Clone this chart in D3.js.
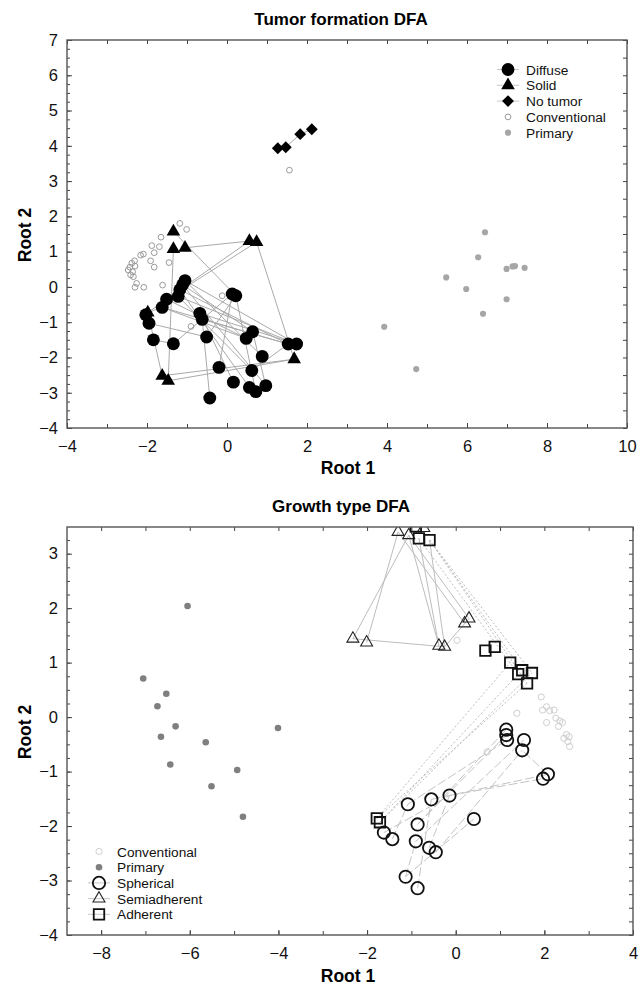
<!DOCTYPE html>
<html lang="en">
<head>
<meta charset="UTF-8">
<title>DFA</title>
<script src="https://cdn.jsdelivr.net/npm/d3@7"></script>
<style>
  body { margin: 0; background: #fff; }
  svg { font-family: "Liberation Sans", Arial, sans-serif; }
</style>
</head>
<body>
<div id="graphic"></div>
<script>
// ---- Tumor formation DFA (Root 1, Root 2) ----
var tumorDiffuse = [[-1.05,0.18],[-1.11,0.06],[-1.18,-0.08],[-1.22,-0.27],[-1.51,-0.35],[-1.62,-0.58],
  [-2.03,-0.79],[-1.95,-1.03],[-1.84,-1.5],[-1.34,-1.61],[-0.68,-0.75],[-0.62,-0.92],[-0.51,-1.42],
  [0.13,-0.2],[0.22,-0.25],[0.64,-1.27],[0.48,-1.46],[0.88,-1.97],[1.53,-1.62],[1.74,-1.62],
  [-0.2,-2.28],[0.62,-2.37],[0.16,-2.7],[0.56,-2.85],[0.72,-2.97],[0.97,-2.8],[-0.43,-3.15]];
var tumorSolid = [[-1.34,1.57],[-1.34,1.07],[-1.05,1.11],[0.56,1.30],[0.74,1.27],[-1.98,-0.73],
  [-1.62,-2.52],[-1.47,-2.66],[1.68,-2.05]];
var tumorNone = [[1.27,3.93],[1.47,3.96],[1.83,4.33],[2.12,4.47]];
var tumorConventional = [[-1.18,1.8],[-1.01,1.63],[-1.65,1.41],[-1.88,1.17],[-1.69,1.14],[-2.09,0.93],
  [-2.16,0.9],[-1.82,0.97],[-1.91,0.74],[-2.31,0.74],[-2.38,0.67],[-2.43,0.56],[-2.47,0.48],
  [-2.36,0.43],[-2.3,0.59],[-1.82,0.56],[-1.45,0.69],[-2.41,0.34],[-2.34,0.29],[-2.26,0.1],
  [-2.3,-0.01],[-2.08,-0.01],[-1.61,0.05],[-0.12,-0.25],[-0.9,-1.12],[1.56,3.31]];
var tumorPrimary = [[6.45,1.55],[6.28,0.84],[5.48,0.27],[5.98,-0.06],[6.99,0.51],[7.14,0.58],
  [7.2,0.59],[7.44,0.54],[6.99,-0.35],[6.4,-0.76],[3.93,-1.13],[4.73,-2.33]];
// connections: [group, index, group, index]
var tumorLinks = [
  ["solid",2,"solid",3],["solid",3,"solid",4],["solid",4,"solid",8],["solid",1,"solid",7],
  ["solid",5,"solid",6],["solid",6,"solid",8],["solid",7,"solid",8],["solid",3,"diffuse",4],
  ["solid",4,"diffuse",4],["solid",0,"diffuse",14],["solid",5,"diffuse",2],
  ["diffuse",2,"diffuse",18],["diffuse",3,"diffuse",19],["diffuse",1,"diffuse",15],
  ["diffuse",0,"diffuse",17],["diffuse",3,"diffuse",21],["diffuse",10,"diffuse",19],
  ["diffuse",11,"diffuse",18],["diffuse",2,"diffuse",23],["diffuse",9,"diffuse",13],
  ["diffuse",12,"diffuse",14],["diffuse",20,"diffuse",13],["diffuse",26,"diffuse",11],
  ["diffuse",22,"diffuse",10],["diffuse",24,"diffuse",14],["diffuse",25,"diffuse",15],
  ["diffuse",16,"diffuse",5],["diffuse",8,"diffuse",9],["diffuse",7,"diffuse",12],
  ["diffuse",6,"diffuse",3],["diffuse",21,"diffuse",18],["diffuse",4,"diffuse",16],
  ["diffuse",0,"diffuse",19],["diffuse",1,"diffuse",25],["diffuse",5,"diffuse",18],
  ["none",0,"none",1],["none",1,"none",2],["none",2,"none",3]];
var tumorLegend = ["Diffuse","Solid","No tumor","Conventional","Primary"];
var tumorXTicks = [-4,-2,0,2,4,6,8,10];
var tumorYTicks = [-4,-3,-2,-1,0,1,2,3,4,5,6,7];

// ---- Growth type DFA (Root 1, Root 2) ----
var growthSpherical = [[1.14,-0.23],[1.14,-0.33],[1.16,-0.42],[1.54,-0.42],[1.5,-0.61],[2.08,-1.05],
  [1.97,-1.13],[-0.14,-1.44],[-0.55,-1.51],[-1.08,-1.6],[0.41,-1.87],[-0.86,-1.97],[-1.62,-2.12],
  [-1.43,-2.24],[-0.9,-2.28],[-0.6,-2.4],[-0.45,-2.48],[-1.13,-2.93],[-0.86,-3.14]];
var growthSemi = [[-1.3,3.4],[-1.06,3.34],[-0.72,3.47],[-2.32,1.44],[-2.01,1.37],[-0.38,1.31],
  [-0.25,1.29],[0.3,1.81],[0.2,1.72]];
var growthAdherent = [[-0.9,3.5],[-0.83,3.28],[-0.59,3.25],[0.67,1.22],[0.88,1.29],[1.23,1.0],
  [1.41,0.79],[1.5,0.86],[1.72,0.81],[1.61,0.62],[-1.78,-1.86],[-1.71,-1.93]];
var growthConventional = [[1.93,0.37],[1.96,0.13],[2.05,0.19],[2.12,0.12],[2.22,0.13],[2.05,-0.1],
  [2.26,-0.02],[2.35,-0.07],[2.32,-0.17],[2.41,-0.1],[2.5,-0.32],[2.44,-0.39],[2.56,-0.36],
  [2.53,-0.45],[2.57,-0.54],[0.03,1.41],[1.38,0.07],[0.71,-0.64]];
var growthPrimary = [[-6.05,2.04],[-7.05,0.71],[-6.53,0.43],[-6.73,0.2],[-6.32,-0.17],[-6.65,-0.36],
  [-5.64,-0.46],[-4.01,-0.2],[-6.44,-0.87],[-4.93,-0.97],[-5.51,-1.27],[-4.8,-1.83]];
var growthLinks = [
  ["semi",1,"semi",3],["semi",0,"semi",4],["semi",1,"semi",5],["semi",1,"semi",7],
  ["semi",3,"semi",6],["semi",6,"semi",7],["semi",0,"semi",8],["adherent",2,"semi",6],
  ["adherent",1,"semi",5],
  ["adherent",2,"adherent",8],["adherent",2,"adherent",9],["adherent",1,"adherent",6],
  ["adherent",2,"adherent",7],["adherent",10,"adherent",5],["adherent",11,"adherent",6],
  ["adherent",10,"adherent",9],["adherent",11,"adherent",8],
  ["spherical",9,"spherical",2],["spherical",8,"spherical",5],["spherical",7,"spherical",6],
  ["spherical",11,"spherical",0],["spherical",14,"spherical",3],["spherical",16,"spherical",4],
  ["spherical",15,"spherical",7],["spherical",18,"spherical",8],["spherical",17,"spherical",10],
  ["spherical",12,"spherical",7],["spherical",13,"spherical",9],["spherical",5,"spherical",4],
  ["spherical",17,"spherical",14],["spherical",11,"spherical",1]];
var growthLegend = ["Conventional","Primary","Spherical","Semiadherent","Adherent"];
var growthXTicks = [-8,-6,-4,-2,0,2,4];
var growthYTicks = [-4,-3,-2,-1,0,1,2,3];

var svg = d3.select('#graphic').append('svg').attr('width', 640).attr('height', 988);

var styles = {
  diffuse:   { type: d3.symbolCircle, size: 130, fill: '#000', stroke: 'none', sw: 0 },
  solid:     { type: d3.symbolTriangle, size: 80, fill: '#000', stroke: 'none', sw: 0 },
  none:      { type: d3.symbolSquare, size: 70, fill: '#000', stroke: 'none', sw: 0, rot: 45 },
  tconv:     { type: d3.symbolCircle, size: 26, fill: 'none', stroke: '#9a9a9a', sw: 1 },
  tprim:     { type: d3.symbolCircle, size: 30, fill: '#a6a6a6', stroke: 'none', sw: 0 },
  gconv:     { type: d3.symbolCircle, size: 30, fill: 'none', stroke: '#cfcfcf', sw: 1 },
  gprim:     { type: d3.symbolCircle, size: 34, fill: '#7f7f7f', stroke: 'none', sw: 0 },
  spherical: { type: d3.symbolCircle, size: 120, fill: 'none', stroke: '#111', sw: 1.8 },
  semi:      { type: d3.symbolTriangle, size: 62, fill: 'none', stroke: '#222', sw: 1.1 },
  adherent:  { type: d3.symbolSquare, size: 110, fill: 'none', stroke: '#111', sw: 1.8 }
};

function drawMarks(g, data, st, x, y) {
  g.selectAll(null).data(data).join('path')
    .attr('d', d3.symbol().type(st.type).size(st.size))
    .attr('transform', function (d) {
      return 'translate(' + x(d[0]) + ',' + y(d[1]) + ')' + (st.rot ? ' rotate(' + st.rot + ')' : '');
    })
    .attr('fill', st.fill)
    .attr('stroke', st.stroke)
    .attr('stroke-width', st.sw);
}

function drawPanel(cfg) {
  var x = d3.scaleLinear().domain(cfg.xDomain).range([cfg.left, cfg.right]);
  var y = d3.scaleLinear().domain(cfg.yDomain).range([cfg.bottom, cfg.top]);
  var g = svg.append('g');

  g.append('clipPath').attr('id', cfg.id + 'clip').append('rect')
    .attr('x', cfg.left).attr('y', cfg.top)
    .attr('width', cfg.right - cfg.left).attr('height', cfg.bottom - cfg.top);
  var plot = g.append('g').attr('clip-path', 'url(#' + cfg.id + 'clip)');

  // links
  plot.selectAll(null).data(cfg.links).join('line')
    .attr('x1', function (d) { return x(cfg.groups[d[0]][d[1]][0]); })
    .attr('y1', function (d) { return y(cfg.groups[d[0]][d[1]][1]); })
    .attr('x2', function (d) { return x(cfg.groups[d[2]][d[3]][0]); })
    .attr('y2', function (d) { return y(cfg.groups[d[2]][d[3]][1]); })
    .attr('stroke', function (d) { return cfg.linkStyle(d).color; })
    .attr('stroke-dasharray', function (d) { return cfg.linkStyle(d).dash; })
    .attr('stroke-width', 1);

  cfg.order.forEach(function (k) {
    drawMarks(plot, cfg.groups[k], styles[cfg.styleOf[k]], x, y);
  });

  // axes, ticks inside
  var fmt = function (d) { return d < 0 ? '\u2212' + Math.abs(d) : d; };
  var unitTicks = d3.range(Math.ceil(cfg.xDomain[0]), cfg.xDomain[1] + 1);
  g.append('g').attr('transform', 'translate(0,' + cfg.bottom + ')')
    .call(d3.axisBottom(x).tickValues(unitTicks).tickSize(-4).tickFormat(''));
  g.append('g').attr('transform', 'translate(0,' + cfg.bottom + ')')
    .call(d3.axisBottom(x).tickValues(cfg.xTicks).tickSize(-5).tickPadding(cfg.xPad).tickFormat(fmt));
  g.append('g').attr('transform', 'translate(0,' + cfg.top + ')')
    .call(d3.axisTop(x).tickValues(unitTicks).tickSize(-4).tickFormat(''));
  g.append('g').attr('transform', 'translate(' + cfg.left + ',0)')
    .call(d3.axisLeft(y).tickValues(d3.range(cfg.yDomain[0], cfg.yDomain[1] + 0.01, 0.25)).tickSize(-3).tickFormat(''));
  g.append('g').attr('transform', 'translate(' + cfg.left + ',0)')
    .call(d3.axisLeft(y).tickValues(cfg.yTicks).tickSize(-5).tickPadding(9).tickFormat(fmt));
  g.append('g').attr('transform', 'translate(' + cfg.right + ',0)')
    .call(d3.axisRight(y).tickValues(d3.range(cfg.yDomain[0], cfg.yDomain[1] + 0.01, cfg.rightStep)).tickSize(-4).tickFormat(''));

  g.selectAll('.domain').remove();
  g.selectAll('.tick line').attr('stroke', '#444');
  g.selectAll('.tick text').attr('font-size', 16.5).attr('fill', '#111')
    .attr('font-family', '"Liberation Sans", Arial, sans-serif');

  g.append('rect')
    .attr('x', cfg.left).attr('y', cfg.top)
    .attr('width', cfg.right - cfg.left).attr('height', cfg.bottom - cfg.top)
    .attr('fill', 'none').attr('stroke', '#555').attr('stroke-width', 1.4);

  // titles
  g.append('text').attr('x', 341).attr('y', cfg.top - 15).attr('text-anchor', 'middle')
    .attr('font-size', 17).attr('font-weight', 'bold').text(cfg.title);
  g.append('text').attr('x', 348).attr('y', cfg.bottom + cfg.rootPad).attr('text-anchor', 'middle')
    .attr('font-size', 17.5).attr('font-weight', 'bold').text('Root 1');
  g.append('text').attr('transform', 'translate(31,' + ((cfg.top + cfg.bottom) / 2 + 1) + ') rotate(-90)')
    .attr('text-anchor', 'middle').attr('font-size', 17.5).attr('font-weight', 'bold').text('Root 2');

  // legend
  var lg = g.append('g');
  cfg.legend.forEach(function (name, i) {
    var key = cfg.legendKeys[i];
    var st = styles[cfg.styleOf[key]];
    var ly = cfg.legendY + i * cfg.legendStep;
    if (cfg.legendLine[i]) {
      lg.append('line').attr('x1', cfg.legendX - 11).attr('x2', cfg.legendX + 11)
        .attr('y1', ly).attr('y2', ly).attr('stroke', '#c8c8c8').attr('stroke-width', 1);
    }
    drawMarks(lg, [[0, 0]], st, function () { return cfg.legendX; }, function () { return ly; });
    lg.append('text').attr('x', cfg.legendX + 18).attr('y', ly + 5)
      .attr('font-size', 13.7).attr('fill', '#111').text(name);
  });
}

drawPanel({
  id: 'tumor', title: 'Tumor formation DFA',
  xDomain: [-4, 10], yDomain: [-4, 7],
  left: 67, right: 627, top: 40, bottom: 428,
  xTicks: tumorXTicks, yTicks: tumorYTicks, rightStep: 0.5, xPad: 12, rootPad: 46,
  groups: { diffuse: tumorDiffuse, solid: tumorSolid, none: tumorNone, conv: tumorConventional, prim: tumorPrimary },
  styleOf: { diffuse: 'diffuse', solid: 'solid', none: 'none', conv: 'tconv', prim: 'tprim' },
  order: ['conv', 'prim', 'diffuse', 'solid', 'none'],
  links: tumorLinks,
  linkStyle: function () { return { color: '#aaaaaa', dash: null }; },
  legend: tumorLegend, legendKeys: ['diffuse', 'solid', 'none', 'conv', 'prim'],
  legendLine: [true, true, true, false, false],
  legendX: 508, legendY: 69.5, legendStep: 15.8
});

drawPanel({
  id: 'growth', title: 'Growth type DFA',
  xDomain: [-8.77, 4], yDomain: [-4, 3.49],
  left: 67, right: 633, top: 527, bottom: 935,
  xTicks: growthXTicks, yTicks: growthYTicks, rightStep: 0.25, xPad: 12, rootPad: 47,
  groups: { spherical: growthSpherical, semi: growthSemi, adherent: growthAdherent, conv: growthConventional, prim: growthPrimary },
  styleOf: { spherical: 'spherical', semi: 'semi', adherent: 'adherent', conv: 'gconv', prim: 'gprim' },
  order: ['conv', 'prim', 'spherical', 'semi', 'adherent'],
  links: growthLinks,
  linkStyle: function (d) {
    if (d[0] === 'adherent' && d[2] === 'adherent') return { color: '#bdbdbd', dash: '2,2' };
    if (d[0] === 'spherical') return { color: '#c4c4c4', dash: '9,3' };
    return { color: '#bdbdbd', dash: null };
  },
  legend: growthLegend, legendKeys: ['conv', 'prim', 'spherical', 'semi', 'adherent'],
  legendLine: [false, false, true, true, true],
  legendX: 99, legendY: 851.5, legendStep: 15.7
});
</script>
</body>
</html>
